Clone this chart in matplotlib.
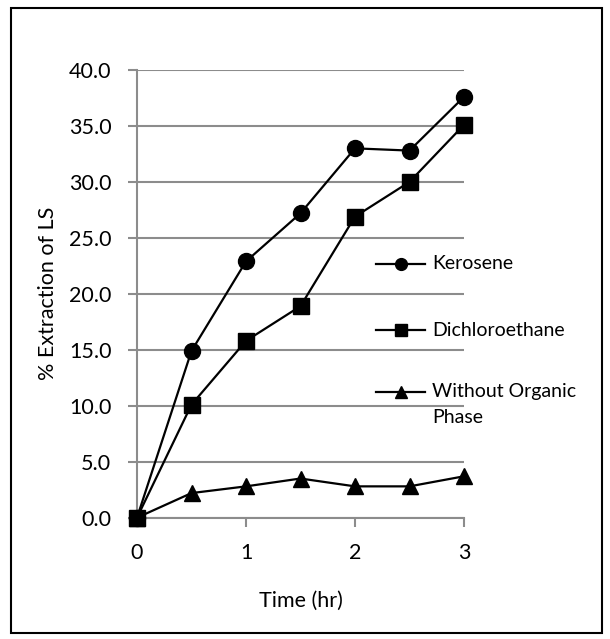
import matplotlib
matplotlib.use('Agg')
import matplotlib.pyplot as plt
from matplotlib.patches import Rectangle

plt.rcParams['font.family'] = ['Lato', 'DejaVu Sans']

# Data
time_hr = [0, 0.5, 1, 1.5, 2, 2.5, 3]
kerosene = [0.0, 14.9, 22.9, 27.2, 33.0, 32.8, 37.6]
dichloroethane = [0.0, 10.1, 15.8, 18.9, 26.9, 30.0, 35.1]
without_org = [0.0, 2.2, 2.8, 3.5, 2.8, 2.8, 3.7]

series_labels = ['Kerosene', 'Dichloroethane', 'Without Organic\nPhase']
markers = ['o', 's', '^']
msizes = [11.5, 11.5, 11]

W, H = 610, 639
fig = plt.figure(figsize=(W / 100, H / 100), dpi=100)
fig.patches.append(Rectangle((11 / W, 1 - 633 / H), (602 - 11) / W, (633 - 8) / H,
                             transform=fig.transFigure, fill=False,
                             edgecolor='black', linewidth=1.5))

ax = fig.add_axes([137 / W, 1 - 517.7 / H, (464 - 137) / W, (517.7 - 70) / H])

grid_col = '#8c8c8c'
for series, m, ms in zip([kerosene, dichloroethane, without_org], markers, msizes):
    ax.plot(time_hr, series, color='black', lw=1.6, marker=m, markersize=ms,
            clip_on=False, zorder=3)

ax.set_xlim(0, 3)
ax.set_ylim(0, 40)
ax.set_xticks([0, 1, 2, 3])
ax.set_yticks(range(0, 41, 5))
ax.set_yticklabels([f'{v:.1f}' for v in range(0, 41, 5)])
ax.yaxis.grid(True, color=grid_col, lw=1.5)
ax.set_axisbelow(True)
for s in ['top', 'right']:
    ax.spines[s].set_visible(False)
for s in ['left', 'bottom']:
    ax.spines[s].set_color(grid_col)
    ax.spines[s].set_linewidth(1.5)
ax.tick_params(axis='both', direction='out', length=6.5, width=1.5, color=grid_col,
               labelsize=15.5, labelcolor='black')
ax.tick_params(axis='y', pad=12)
ax.tick_params(axis='x', pad=12)

ax.set_xlabel('Time (hr)', fontsize=15.5, labelpad=20)
ax.set_ylabel('% Extraction of LS', fontsize=15.5, labelpad=8)

# manual legend to the right
leg_y = [0.567, 0.419, 0.281]
line_step = 26 / 447.7
for lab, m, y in zip(series_labels, markers, leg_y):
    ax.plot([0.731, 0.881], [y, y], transform=ax.transAxes, color='black', lw=1.6,
            clip_on=False)
    ax.plot([0.806], [y], transform=ax.transAxes, color='black', marker=m,
            markersize=8.5, clip_on=False)
    for i, part in enumerate(lab.split('\n')):
        ax.text(0.902, y - i * line_step, part, transform=ax.transAxes,
                fontsize=14, va='center', ha='left')

fig.savefig('out.png', dpi=100)
